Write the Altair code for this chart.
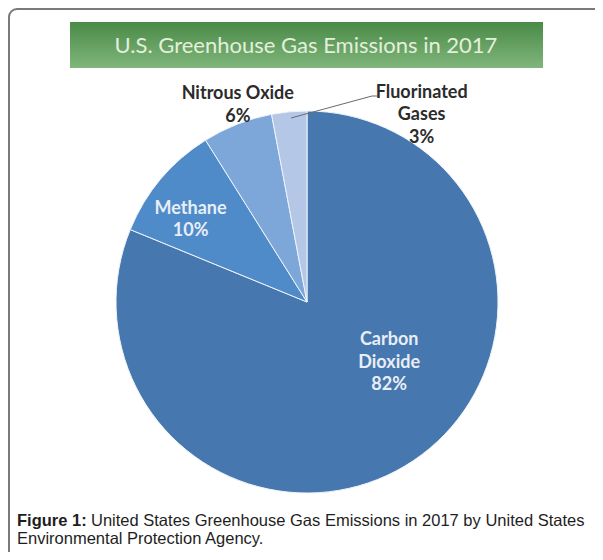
import altair as alt
import pandas as pd

# ---- data ----
gases = ["Carbon Dioxide", "Methane", "Nitrous Oxide", "Fluorinated Gases"]
label_names = ["Carbon\nDioxide", "Methane", "Nitrous Oxide", "Fluorinated\nGases"]
shares = [82, 10, 6, 3]
slice_colors = ["#4677ae", "#4f8bc9", "#7da6d9", "#b4c7e7"]

title_text = "U.S. Greenhouse Gas Emissions in 2017"
caption_bold = "Figure 1:"
caption_line1 = "United States Greenhouse Gas Emissions in 2017 by United States"
caption_line2 = "Environmental Protection Agency."

df = pd.DataFrame({
    "gas": gases,
    "name": label_names,
    "share": shares,
    "rank": list(range(len(gases))),
})
df["label"] = df["name"] + "\n" + df["share"].astype(str) + "%"

one = pd.DataFrame({"k": [0]})

W, H = 587, 544
CX, CY, R = 299, 294, 191

# ---- decorations ----
border = alt.Chart(one).mark_rect(
    cornerRadius=8, stroke="#7a7a7a", strokeWidth=2, fillOpacity=0
).encode(x=alt.value(1), x2=alt.value(700), y=alt.value(1), y2=alt.value(700))

banner = alt.Chart(one).mark_rect(
    color=alt.LinearGradient(
        gradient="linear",
        stops=[alt.GradientStop(color="#4a8a47", offset=0),
               alt.GradientStop(color="#80b67c", offset=1)],
        x1=0, x2=0, y1=0, y2=1,
    )
).encode(x=alt.value(62), x2=alt.value(535), y=alt.value(14), y2=alt.value(60))

title = alt.Chart(pd.DataFrame({"t": [title_text]})).mark_text(
    font="Lato", fontSize=22, color="#e4efdc", align="center", baseline="middle"
).encode(x=alt.value(298), y=alt.value(38), text="t:N")

# ---- pie ----
base = alt.Chart(df).encode(
    theta=alt.Theta("share:Q", stack=True),
    order=alt.Order("rank:Q"),
    x=alt.value(CX),
    y=alt.value(CY),
)

pie = base.mark_arc(outerRadius=R, stroke="#eef3fa", strokeWidth=1).encode(
    color=alt.Color("gas:N", scale=alt.Scale(domain=gases, range=slice_colors), legend=None)
)


def label_layer(gas, radius, dx, dy, color):
    return base.transform_calculate(
        shown=f"datum.gas === '{gas}' ? datum.label : ''"
    ).mark_text(
        radius=radius, dx=dx, dy=dy, font="Lato", fontWeight="bold", fontSize=18,
        lineHeight=22.5, lineBreak="\n", color=color, align="center", baseline="middle",
    ).encode(text="shown:N")


lab_co2 = label_layer("Carbon Dioxide", 99, 27, -44, "#e8eef7")
lab_ch4 = label_layer("Methane", 143, -7, -1, "#e8eef7")
lab_n2o = label_layer("Nitrous Oxide", 209, 7, -13, "#2b2b2b")
lab_f = label_layer("Fluorinated Gases", 197, 133, -13, "#2b2b2b")

leader = alt.Chart(pd.DataFrame({"x": [283, 364], "y": [110, 88], "x2": [364, 369], "y2": [88, 88]})).mark_rule(
    color="#6a6a6a", strokeWidth=1
).encode(x=alt.X("x:Q", scale=None), y=alt.Y("y:Q", scale=None),
         x2="x2:Q", y2="y2:Q")

# ---- caption ----
cap_b = alt.Chart(pd.DataFrame({"t": [caption_bold]})).mark_text(
    font="Liberation Sans", fontSize=16.5, fontWeight="bold", color="#1e1e1e",
    align="left", baseline="middle"
).encode(x=alt.value(9), y=alt.value(513), text="t:N")

cap_1 = alt.Chart(pd.DataFrame({"t": [caption_line1]})).mark_text(
    font="Liberation Sans", fontSize=16.5, color="#1e1e1e", align="left", baseline="middle"
).encode(x=alt.value(83), y=alt.value(513), text="t:N")

cap_2 = alt.Chart(pd.DataFrame({"t": [caption_line2]})).mark_text(
    font="Liberation Sans", fontSize=16.5, color="#1e1e1e", align="left", baseline="middle"
).encode(x=alt.value(9), y=alt.value(531), text="t:N")

chart = alt.layer(
    border, banner, title, pie, lab_co2, lab_ch4, lab_n2o, lab_f, leader, cap_b, cap_1, cap_2
).properties(
    width=W, height=H, padding=0, autosize=alt.AutoSizeParams(type="none"),
    background="#ffffff",
).configure_view(stroke=None)

chart.save("out.html", embed_options={"renderer": "svg", "actions": False})
